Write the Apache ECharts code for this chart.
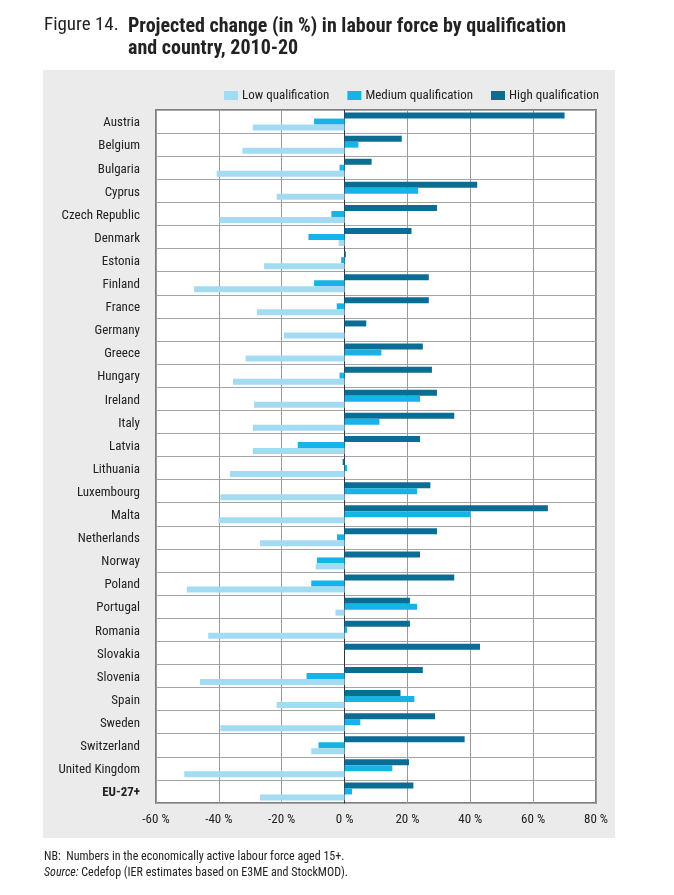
<!DOCTYPE html>
<html>
<head>
<meta charset="utf-8">
<script src="https://cdn.jsdelivr.net/npm/echarts@6/dist/echarts.min.js"></script>
<style>
html, body { margin: 0; padding: 0; background: #fff; }
#main { width: 674px; height: 895px; }
</style>
</head>
<body>
<div id="main"></div>
<script>
var myChart = echarts.init(document.getElementById('main'));

var FONT = "'Liberation Sans Narrow', 'Roboto Condensed', 'Arial Narrow', 'Liberation Sans', sans-serif";

var countries = ['Austria', 'Belgium', 'Bulgaria', 'Cyprus', 'Czech Republic', 'Denmark', 'Estonia', 'Finland',
    'France', 'Germany', 'Greece', 'Hungary', 'Ireland', 'Italy', 'Latvia', 'Lithuania', 'Luxembourg', 'Malta',
    'Netherlands', 'Norway', 'Poland', 'Portugal', 'Romania', 'Slovakia', 'Slovenia', 'Spain', 'Sweden',
    'Switzerland', 'United Kingdom', 'EU-27+'];

var highQual = [70.0, 18.2, 8.6, 42.2, 29.4, 21.3, 0.4, 26.8, 26.8, 6.9, 24.9, 27.8, 29.4, 34.9, 24.0, -0.6,
    27.3, 64.7, 29.4, 24.0, 34.9, 20.8, 20.8, 43.1, 24.9, 17.8, 28.8, 38.2, 20.5, 21.9];
var mediumQual = [-9.7, 4.4, -1.6, 23.4, -4.2, -11.5, -1.1, -9.7, -2.5, 0, 11.7, -1.6, 24.0, 11.1, -14.9, 0.8,
    23.1, 40.0, -2.4, -8.8, -10.6, 23.1, 0.8, 0, -12.1, 22.2, 5.0, -8.3, 15.2, 2.4];
var lowQual = [-29.2, -32.5, -40.7, -21.6, -39.8, -1.9, -25.6, -47.9, -27.9, -19.3, -31.5, -35.5, -28.8, -29.2,
    -29.2, -36.5, -39.5, -40.1, -26.9, -9.2, -50.2, -2.9, -43.4, 0, -46.0, -21.6, -39.5, -10.6, -51.0, -26.9];

var xTicks = [-60, -40, -20, 0, 20, 40, 60, 80];

var option = {
    backgroundColor: '#fff',
    animation: false,
    textStyle: { fontFamily: FONT },
    title: [{
        text: 'Figure 14.',
        left: 39,
        top: 11,
        textStyle: { fontFamily: FONT, fontSize: 19, fontWeight: 'normal', color: '#222' }
    }, {
        text: 'Projected change (in %) in labour force by qualification\nand country, 2010-20',
        left: 123,
        top: 11,
        textStyle: { fontFamily: FONT, fontSize: 20, fontWeight: 'bold', color: '#222', lineHeight: 22 }
    }],
    graphic: [{
        type: 'rect',
        z: -10,
        shape: { x: 43, y: 70, width: 572, height: 768 },
        style: { fill: '#ebebeb' }
    }, {
        type: 'text',
        left: 44,
        top: 851,
        style: {
            text: 'NB:  Numbers in the economically active labour force aged 15+.',
            font: '12px ' + FONT,
            fill: '#222'
        }
    }, {
        type: 'text',
        left: 44,
        top: 867,
        style: {
            text: '{i|Source:} Cedefop (IER estimates based on E3ME and StockMOD).',
            font: '12px ' + FONT,
            fill: '#222',
            rich: { i: { fontStyle: 'italic', fontFamily: FONT, fontSize: 12, fill: '#222' } }
        }
    }],
    legend: {
        data: ['Low qualification', 'Medium qualification', 'High qualification'],
        left: 219,
        top: 84,
        itemWidth: 14,
        itemHeight: 9,
        itemGap: 18,
        icon: 'rect',
        textStyle: { fontFamily: FONT, fontSize: 13, color: '#222', padding: [0, 0, 0, -1] }
    },
    grid: {
        left: 156,
        right: 78,
        top: 110,
        bottom: 92,
        show: true,
        backgroundColor: '#fff',
        borderColor: '#7f7f7f',
        borderWidth: 2
    },
    xAxis: {
        type: 'value',
        min: -60,
        max: 80,
        interval: 20,
        axisLine: { show: false },
        axisTick: { show: false },
        splitLine: { lineStyle: { color: '#9a9a9a', width: 1 } },
        axisLabel: {
            margin: 10,
            fontFamily: FONT,
            fontSize: 13,
            color: '#222',
            formatter: function (v) { return xTicks.indexOf(v) >= 0 ? v + ' %' : ''; }
        }
    },
    yAxis: {
        type: 'category',
        data: countries,
        inverse: true,
        axisLine: { show: true, onZero: true, lineStyle: { color: '#333', width: 1 } },
        axisTick: { show: false },
        splitLine: { show: true, lineStyle: { color: '#a5a5a5', width: 1 } },
        axisLabel: {
            margin: 16,
            fontFamily: FONT,
            fontSize: 13,
            color: '#222',
            padding: [3, 0, 0, 0],
            formatter: function (v) { return v === 'EU-27+' ? '{b|' + v + '}' : v; },
            rich: { b: { fontWeight: 'bold', fontFamily: FONT, fontSize: 13, color: '#222' } }
        }
    },
    series: [{
        name: 'High qualification',
        type: 'bar',
        data: highQual,
        barWidth: 6,
        barGap: '0%',
        itemStyle: { color: '#0b6d93' }
    }, {
        name: 'Medium qualification',
        type: 'bar',
        data: mediumQual,
        barWidth: 6,
        barGap: '0%',
        itemStyle: { color: '#17b3e6' }
    }, {
        name: 'Low qualification',
        type: 'bar',
        data: lowQual,
        barWidth: 6,
        barGap: '0%',
        itemStyle: { color: '#a2dbf2' }
    }]
};

myChart.setOption(option);
window.onresize = myChart.resize;
</script>
</body>
</html>
